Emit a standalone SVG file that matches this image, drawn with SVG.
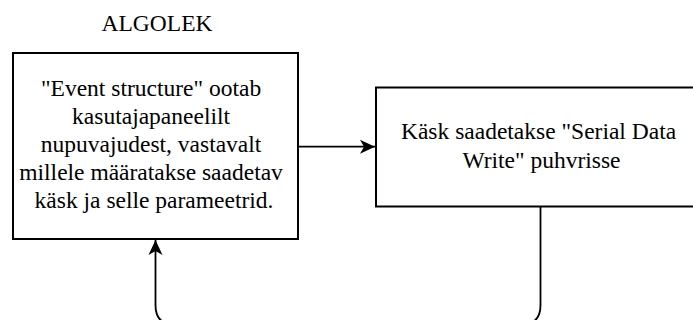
<svg xmlns="http://www.w3.org/2000/svg" width="693" height="320" viewBox="0 0 693 320">
  <style>
    .box { fill: #ffffff; stroke: #000000; stroke-width: 2; }
    .label { font-family: "Liberation Serif", "Times New Roman", serif; font-size: 23.5px; fill: #000000; text-anchor: middle; }
    .edge { fill: none; stroke: #000000; stroke-width: 1.8; }
  </style>
  <defs>
    <marker id="arrow" markerWidth="16" markerHeight="16" viewBox="-15 -8 16 16" refX="0" refY="0" orient="auto" markerUnits="userSpaceOnUse">
      <path d="M0,0 L-15,-7 L-11,0 L-15,7 Z" fill="#000000" stroke="none"/>
    </marker>
  </defs>
  <rect width="693" height="320" fill="#ffffff"/>

  <!-- title -->
  <text class="label" x="157" y="31">ALGOLEK</text>

  <!-- connectors -->
  <g id="connectors">
    <path class="edge" d="M298,146.7 H375" marker-end="url(#arrow)"/>
    <path class="edge" d="M540.5,207 V305 Q540.5,325 520.5,325 H175.5 Q155.5,325 155.5,305 V240" marker-end="url(#arrow)"/>
  </g>

  <!-- event structure -->
  <g id="node-event">
    <rect class="box" x="13" y="53" width="285" height="186"/>
    <text class="label" x="154">
      <tspan x="154" y="95.5">"Event structure" ootab</tspan>
      <tspan x="154" y="123.7">kasutajapaneelilt</tspan>
      <tspan x="154" y="151.9">nupuvajudest, vastavalt</tspan>
      <tspan x="154" y="180.1">millele määratakse saadetav</tspan>
      <tspan x="154" y="208.3">käsk ja selle parameetrid.</tspan>
    </text>
  </g>

  <!-- serial write -->
  <g id="node-write">
    <rect class="box" x="376" y="87.5" width="330" height="119"/>
    <text class="label">
      <tspan x="541.5" y="139.3">Käsk saadetakse "Serial Data</tspan>
      <tspan x="541.5" y="167.5">Write" puhvrisse</tspan>
    </text>
  </g>
</svg>
